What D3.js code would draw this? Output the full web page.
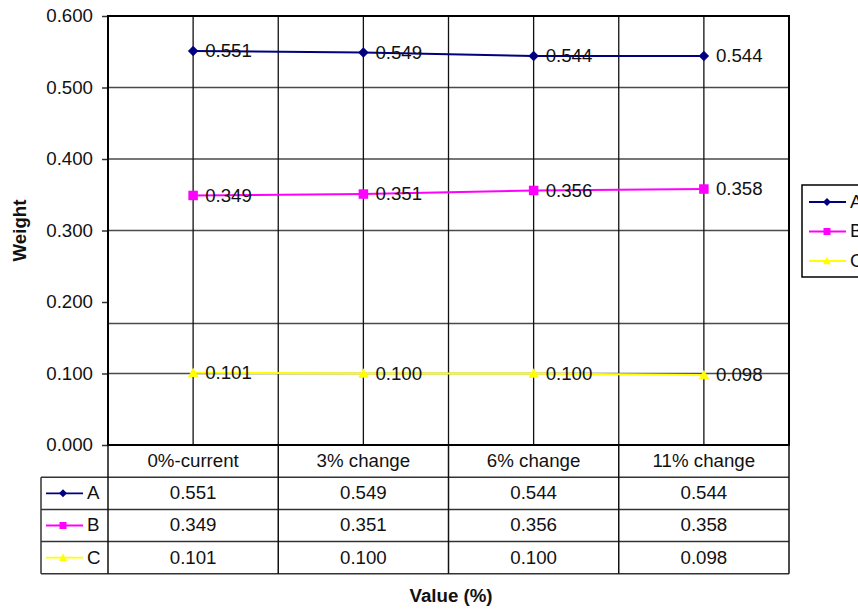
<!DOCTYPE html>
<html>
<head>
<meta charset="utf-8">
<script src="https://cdn.jsdelivr.net/npm/d3@7"></script>
<style>
  html, body { margin: 0; padding: 0; background: #fff; }
  svg { display: block; font-family: "Liberation Sans", Arial, sans-serif; }
</style>
</head>
<body>
<svg id="chart" width="858" height="609"></svg>
<script>
// ---- data ----
const categories = ["0%-current", "3% change", "6% change", "11% change"];
const seriesNames = ["A", "B", "C"];
const valuesA = [0.551, 0.549, 0.544, 0.544];
const valuesB = [0.349, 0.351, 0.356, 0.358];
const valuesC = [0.101, 0.100, 0.100, 0.098];
const yTicks = [0, 0.1, 0.2, 0.3, 0.4, 0.5, 0.6];
const gridValues = [0.1, 0.17, 0.3, 0.4, 0.5];
const xTitle = "Value (%)";
const yTitle = "Weight";

const series = [
  { name: seriesNames[0], values: valuesA, color: "#000080", marker: "diamond" },
  { name: seriesNames[1], values: valuesB, color: "#FF00FF", marker: "square" },
  { name: seriesNames[2], values: valuesC, color: "#FFFF00", marker: "triangle" }
];

// ---- layout ----
const plot = { left: 108, right: 789, top: 16, bottom: 445 };
const table = { keyLeft: 41, rowH: 32.2 };
const fontSize = 18.7;

const svg = d3.select("#chart");

const x = d3.scaleBand().domain(categories).range([plot.left, plot.right]).padding(0);
const xc = d => x(d) + x.bandwidth() / 2;
const y = d3.scaleLinear().domain([0, 0.6]).range([plot.bottom, plot.top]);

// horizontal gridlines
svg.append("g").selectAll("line").data(gridValues).join("line")
  .attr("x1", plot.left).attr("x2", plot.right)
  .attr("y1", d => y(d)).attr("y2", d => y(d))
  .attr("stroke", "#4a4a4a").attr("stroke-width", 1.6);

// vertical lines (category boundaries and centers)
const vx = [];
categories.forEach((c, i) => { vx.push(xc(c)); if (i > 0) vx.push(x(c)); });
svg.append("g").selectAll("line").data(vx).join("line")
  .attr("x1", d => d).attr("x2", d => d)
  .attr("y1", plot.top).attr("y2", plot.bottom)
  .attr("stroke", "#111").attr("stroke-width", 1.3);

// y axis
const yAxis = d3.axisLeft(y).tickValues(yTicks).tickFormat(d3.format(".3f")).tickSize(6).tickPadding(9);
const ga = svg.append("g").attr("transform", `translate(${plot.left},0)`).call(yAxis);
ga.select(".domain").remove();
ga.selectAll(".tick line").attr("stroke", "#333").attr("stroke-width", 1.5);
ga.selectAll(".tick text").attr("font-size", fontSize).attr("font-family", "Liberation Sans, Arial, sans-serif").attr("fill", "#111");

// plot frame
svg.append("rect")
  .attr("x", plot.left).attr("y", plot.top)
  .attr("width", plot.right - plot.left).attr("height", plot.bottom - plot.top)
  .attr("fill", "none").attr("stroke", "#000").attr("stroke-width", 2);

// marker drawing
function drawMarker(g, type, color, size) {
  if (type === "diamond") {
    g.append("path").attr("d", `M0,${-size/2}L${size/2},0L0,${size/2}L${-size/2},0Z`).attr("fill", color);
  } else if (type === "square") {
    g.append("rect").attr("x", -size/2 + 0.5).attr("y", -size/2 + 0.5).attr("width", size - 1).attr("height", size - 1).attr("fill", color);
  } else {
    const h = size * 0.8;
    g.append("path").attr("d", `M0,${-h/2 - 1}L${size/2},${h/2}L${-size/2},${h/2}Z`).attr("fill", color);
  }
}

// lines + markers + labels
const line = d3.line().x((d, i) => xc(categories[i])).y(d => y(d));
series.forEach(s => {
  svg.append("path").datum(s.values).attr("d", line)
    .attr("fill", "none").attr("stroke", s.color).attr("stroke-width", 1.9);
  s.values.forEach((v, i) => {
    const g = svg.append("g").attr("transform", `translate(${xc(categories[i])},${y(v)})`);
    drawMarker(g, s.marker, s.color, 10.5);
  });
  svg.append("g").selectAll("text").data(s.values).join("text")
    .attr("x", (d, i) => xc(categories[i]) + 12)
    .attr("y", d => y(d) + 1.5)
    .attr("dominant-baseline", "middle")
    .attr("font-size", fontSize).attr("fill", "#111")
    .text(d => d3.format(".3f")(d));
});

// ---- data table ----
const tTop = plot.bottom;
const rows = series.length;
const tBottom = tTop + table.rowH * (rows + 1);
const tg = svg.append("g");
for (let r = 1; r <= rows; r++) {
  tg.append("line").attr("x1", table.keyLeft).attr("x2", plot.right)
    .attr("y1", tTop + r * table.rowH).attr("y2", tTop + r * table.rowH)
    .attr("stroke", "#333").attr("stroke-width", 1.5);
}
tg.append("line").attr("x1", table.keyLeft).attr("x2", plot.right)
  .attr("y1", tBottom).attr("y2", tBottom).attr("stroke", "#333").attr("stroke-width", 1.5);
const colX = categories.map(c => x(c)).concat([plot.right]);
colX.forEach(cx => {
  tg.append("line").attr("x1", cx).attr("x2", cx).attr("y1", tTop).attr("y2", tBottom)
    .attr("stroke", "#111").attr("stroke-width", 1.5);
});
tg.append("line").attr("x1", table.keyLeft).attr("x2", table.keyLeft)
  .attr("y1", tTop + table.rowH).attr("y2", tBottom).attr("stroke", "#333").attr("stroke-width", 1.5);

tg.selectAll("text.h").data(categories).join("text").attr("class", "h")
  .attr("x", d => xc(d)).attr("y", tTop + table.rowH / 2 + 1)
  .attr("text-anchor", "middle").attr("dominant-baseline", "middle")
  .attr("font-size", fontSize).attr("fill", "#111").text(d => d);

series.forEach((s, r) => {
  const cy = tTop + table.rowH * (r + 1.5);
  tg.append("g").selectAll("text").data(s.values).join("text")
    .attr("x", (d, i) => xc(categories[i])).attr("y", cy + 1)
    .attr("text-anchor", "middle").attr("dominant-baseline", "middle")
    .attr("font-size", fontSize).attr("fill", "#111")
    .text(d => d3.format(".3f")(d));
  tg.append("line").attr("x1", 46).attr("x2", 83).attr("y1", cy).attr("y2", cy)
    .attr("stroke", s.color).attr("stroke-width", 1.8);
  drawMarker(tg.append("g").attr("transform", `translate(63,${cy})`), s.marker, s.color, 8);
  tg.append("text").attr("x", 87).attr("y", cy + 1).attr("dominant-baseline", "middle")
    .attr("font-size", fontSize).attr("fill", "#111").text(s.name);
});

// ---- legend ----
const lg = svg.append("g");
lg.append("rect").attr("x", 802).attr("y", 185).attr("width", 80).attr("height", 92)
  .attr("fill", "#fff").attr("stroke", "#000").attr("stroke-width", 1.5);
series.forEach((s, i) => {
  const ly = 202 + i * 29.5;
  lg.append("line").attr("x1", 809).attr("x2", 846).attr("y1", ly).attr("y2", ly)
    .attr("stroke", s.color).attr("stroke-width", 1.8);
  drawMarker(lg.append("g").attr("transform", `translate(827,${ly})`), s.marker, s.color, 8);
  lg.append("text").attr("x", 850).attr("y", ly + 1).attr("dominant-baseline", "middle")
    .attr("font-size", fontSize).attr("fill", "#111").text(s.name);
});

// ---- titles ----
svg.append("text").attr("x", 451).attr("y", 597).attr("text-anchor", "middle")
  .attr("dominant-baseline", "middle").attr("font-size", fontSize).attr("font-weight", "bold")
  .attr("fill", "#111").text(xTitle);
svg.append("text").attr("transform", `translate(21,${(plot.top + plot.bottom) / 2}) rotate(-90)`)
  .attr("text-anchor", "middle").attr("dominant-baseline", "middle")
  .attr("font-size", fontSize).attr("font-weight", "bold").attr("fill", "#111").text(yTitle);
</script>
</body>
</html>
